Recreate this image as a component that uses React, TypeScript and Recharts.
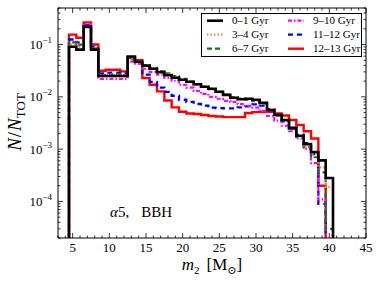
import { LineChart, Line, XAxis, YAxis, Legend } from 'recharts';

// lower edges of the 1 Msun bins; the last edge closes the final bin
const binEdges = [
  4.5, 5.5, 6.5, 7.5, 8.5, 9.5, 10.5, 11.5, 12.5, 13.5, 14.5, 15.5, 16.5, 17.5, 18.5, 19.5, 20.5, 21.5, 22.5,
  23.5, 24.5, 25.5, 26.5, 27.5, 28.5, 29.5, 30.5, 31.5, 32.5, 33.5, 34.5, 35.5, 36.5, 37.5, 38.5, 39.5, 40.5,
];

// N/N_TOT per bin (bins centred on 5..40 Msun)
const gyr0to1 = [
  0.091, 0.08, 0.22, 0.08, 0.025, 0.025, 0.025, 0.025, 0.059, 0.047, 0.0395, 0.0345, 0.0296, 0.0259, 0.0232, 0.0212,
  0.0194, 0.0174, 0.0156, 0.0143, 0.0125, 0.0109, 0.0096, 0.009, 0.0092, 0.0088, 0.0077, 0.0056, 0.0045, 0.0036,
  0.0025, 0.0018, 0.00125, 0.00088, 0.00061, 0.00028,
];
const gyr3to4 = [
  0.1, 0.09, 0.21, 0.085, 0.026, 0.026, 0.026, 0.026, 0.055, 0.048, 0.04, 0.035, 0.03, 0.027, 0.024, 0.021, 0.019,
  0.017, 0.0155, 0.0138, 0.0122, 0.0108, 0.0096, 0.009, 0.0089, 0.0085, 0.0075, 0.0058, 0.0045, 0.0036, 0.0026,
  0.0017, 0.0011, 0.0008, 0.00045, 0.00019,
];
const gyr6to7 = [
  0.11, 0.1, 0.215, 0.085, 0.026, 0.026, 0.027, 0.026, 0.052, 0.047, 0.04, 0.036, 0.031, 0.028, 0.025, 0.022,
  0.0195, 0.0175, 0.0155, 0.014, 0.0125, 0.011, 0.0098, 0.0093, 0.0088, 0.0083, 0.0074, 0.0056, 0.0044, 0.0035,
  0.0026, 0.0017, 0.0011, 0.0007, 0.00036, 0.00003,
];
const gyr9to10 = [
  0.11, 0.095, 0.25, 0.085, 0.022, 0.022, 0.022, 0.022, 0.047, 0.043, 0.0345, 0.03, 0.0265, 0.023, 0.0203, 0.017,
  0.015, 0.013, 0.0114, 0.01, 0.0092, 0.0084, 0.008, 0.0073, 0.0067, 0.0062, 0.0054, 0.0043, 0.0035, 0.0028,
  0.0022, 0.0016, 0.001, 0.00054, 0.00011, 0,
];
const gyr11to12 = [
  0.125, 0.11, 0.235, 0.09, 0.028, 0.029, 0.029, 0.028, 0.056, 0.043, 0.0265, 0.0194, 0.015, 0.0125, 0.0105,
  0.0088, 0.008, 0.0073, 0.0068, 0.0062, 0.0061, 0.006, 0.006, 0.0063, 0.0066, 0.0072, 0.0068, 0.0058, 0.0045,
  0.0034, 0.0026, 0.0019, 0.0013, 0.0008, 0.00009, 0,
];
const gyr12to13 = [
  0.155, 0.135, 0.265, 0.1, 0.0316, 0.033, 0.033, 0.0307, 0.055, 0.05, 0.023, 0.017, 0.0127, 0.0085, 0.0063,
  0.0052, 0.0048, 0.0047, 0.0045, 0.0043, 0.0042, 0.0041, 0.0041, 0.0041, 0.0049, 0.0051, 0.0051, 0.0052, 0.0048,
  0.0044, 0.0036, 0.0029, 0.0022, 0.0016, 0.0002, 0,
];

const xTicks = [3, 4, 5, 6, 7, 8, 9, 10, 11, 12, 13, 14, 15, 16, 17, 18, 19, 20, 21, 22, 23, 24, 25, 26, 27, 28, 29, 30, 31, 32, 33, 34, 35, 36, 37, 38, 39, 40, 41, 42, 43, 44, 45];
const xMajor = [5, 10, 15, 20, 25, 30, 35, 40, 45];
const yMajor = [1e-4, 1e-3, 1e-2, 1e-1];
const yMajorLabels = ['−4', '−3', '−2', '−1'];
const yTicks = [
  2e-5, 3e-5, 4e-5, 5e-5, 6e-5, 7e-5, 8e-5, 9e-5,
  1e-4, 2e-4, 3e-4, 4e-4, 5e-4, 6e-4, 7e-4, 8e-4, 9e-4,
  1e-3, 2e-3, 3e-3, 4e-3, 5e-3, 6e-3, 7e-3, 8e-3, 9e-3,
  1e-2, 2e-2, 3e-2, 4e-2, 5e-2, 6e-2, 7e-2, 8e-2, 9e-2,
  1e-1, 2e-1, 3e-1, 4e-1, 5e-1,
];

const SERIF = '"Liberation Serif", "DejaVu Serif", serif';
const FLOOR = 1e-9; // empty bins, drawn below the visible range

const series = [
  { key: 'g0', name: '0–1 Gyr', values: gyr0to1, color: '#000000', width: 2.6, dash: undefined },
  { key: 'g3', name: '3–4 Gyr', values: gyr3to4, color: '#ff7f50', width: 2.2, dash: '1.5 2' },
  { key: 'g6', name: '6–7 Gyr', values: gyr6to7, color: '#008000', width: 2.2, dash: '5 3' },
  { key: 'g9', name: '9–10 Gyr', values: gyr9to10, color: '#ff00ff', width: 2.2, dash: '4 2 1.5 2' },
  { key: 'g11', name: '11–12 Gyr', values: gyr11to12, color: '#0000ff', width: 2.3, dash: '5 4' },
  { key: 'g12', name: '12–13 Gyr', values: gyr12to13, color: '#ff0000', width: 2.4, dash: undefined },
];

// step data: a floor point opens the first bin, each edge carries its bin's value
const rows: Record<string, number>[] = [];
const first: Record<string, number> = { m: binEdges[0] };
series.forEach((s) => (first[s.key] = FLOOR));
rows.push(first);
binEdges.forEach((edge, i) => {
  const row: Record<string, number> = { m: edge };
  series.forEach((s) => {
    const v = s.values[i];
    row[s.key] = v && v > 0 ? v : FLOOR;
  });
  rows.push(row);
});

function BottomTick(props: any) {
  const { x, y, payload } = props;
  const major = xMajor.includes(payload.value);
  return (
    <g>
      <line x1={x} x2={x} y1={y} y2={y - (major ? 5 : 2.5)} stroke="#000" strokeWidth={0.8} />
      {major && (
        <text x={x} y={y + 14} textAnchor="middle" fontFamily={SERIF} fontSize={13} fill="#000">
          {payload.value}
        </text>
      )}
    </g>
  );
}

function TopTick(props: any) {
  const { x, y, payload } = props;
  const major = xMajor.includes(payload.value);
  return <line x1={x} x2={x} y1={y} y2={y + (major ? 5 : 2.5)} stroke="#000" strokeWidth={0.8} />;
}

function LeftTick(props: any) {
  const { x, y, payload } = props;
  const idx = yMajor.findIndex((v) => Math.abs(v - payload.value) / v < 1e-6);
  const major = idx >= 0;
  return (
    <g>
      <line x1={x} x2={x + (major ? 5 : 2.5)} y1={y} y2={y} stroke="#000" strokeWidth={0.8} />
      {major && (
        <text x={x - 6} y={y + 4.5} textAnchor="end" fontFamily={SERIF} fontSize={13} fill="#000">
          10
          <tspan fontSize={9} dy={-6}>
            {yMajorLabels[idx]}
          </tspan>
        </text>
      )}
    </g>
  );
}

function RightTick(props: any) {
  const { x, y, payload } = props;
  const major = yMajor.some((v) => Math.abs(v - payload.value) / v < 1e-6);
  return <line x1={x} x2={x - (major ? 5 : 2.5)} y1={y} y2={y} stroke="#000" strokeWidth={0.8} />;
}

function XTitle() {
  return (
    <text x={212} y={270} textAnchor="middle" fontFamily={SERIF} fontSize={17} fill="#000">
      <tspan fontStyle="italic">m</tspan>
      <tspan fontSize={11} dy={4}>2</tspan>
      <tspan dy={-4} dx={7}>[M</tspan>
      <tspan fontSize={11} dy={4}>⊙</tspan>
      <tspan dy={-4}>]</tspan>
    </text>
  );
}

function YTitle() {
  return (
    <text transform="rotate(-90)" x={-122} y={21} textAnchor="middle" fontFamily={SERIF} fontSize={19} fill="#000">
      <tspan fontStyle="italic">N</tspan>
      <tspan dx={1}>/</tspan>
      <tspan fontStyle="italic" dx={1}>N</tspan>
      <tspan fontSize={13} dy={4}>TOT</tspan>
    </text>
  );
}

function LegendBox() {
  return (
    <div style={{ width: 161, height: 44, boxSizing: 'border-box', border: '1px solid #000', background: '#fff' }}>
      <svg width={159} height={42} style={{ display: 'block' }}>
        {series.map((s, i) => {
          const col = Math.floor(i / 3);
          const row = i % 3;
          const x0 = col === 0 ? 5 : 86;
          const y = 6.7 + row * 14;
          return (
            <g key={s.key}>
              <line x1={x0} x2={x0 + 16} y1={y} y2={y} stroke={s.color} strokeWidth={s.width} strokeDasharray={s.dash} />
              <text x={x0 + 25} y={y + 3.5} fontFamily={SERIF} fontSize={11} fill="#000">
                {s.name}
              </text>
            </g>
          );
        })}
      </svg>
    </div>
  );
}

export default function App() {
  return (
    <div style={{ position: 'absolute', left: 0, top: 0, width: 382, height: 288, background: '#fff' }}>
      <LineChart width={382} height={288} data={rows} margin={{ top: 0, right: 0, bottom: 0, left: 0 }}>
        <XAxis
          dataKey="m"
          type="number"
          domain={[3, 45]}
          ticks={xTicks}
          interval={0}
          tickSize={0}
          tickMargin={0}
          tick={<BottomTick />}
          height={50}
          stroke="#000"
          allowDataOverflow
          label={<XTitle />}
        />
        <XAxis
          xAxisId="top"
          orientation="top"
          dataKey="m"
          type="number"
          domain={[3, 45]}
          ticks={xTicks}
          interval={0}
          tickSize={0}
          tickMargin={0}
          tick={<TopTick />}
          height={8}
          stroke="#000"
          allowDataOverflow
        />
        <YAxis
          scale="log"
          type="number"
          domain={[2e-5, 0.5]}
          ticks={yTicks}
          interval={0}
          tickSize={0}
          tickMargin={0}
          tick={<LeftTick />}
          width={58}
          stroke="#000"
          allowDataOverflow
          label={<YTitle />}
        />
        <YAxis
          yAxisId="right"
          orientation="right"
          scale="log"
          type="number"
          domain={[2e-5, 0.5]}
          ticks={yTicks}
          interval={0}
          tickSize={0}
          tickMargin={0}
          tick={<RightTick />}
          width={16}
          stroke="#000"
          allowDataOverflow
        />
        {[...series].reverse().map((s) => (
          <Line
            key={s.key}
            dataKey={s.key}
            type="stepAfter"
            stroke={s.color}
            strokeWidth={s.width}
            strokeDasharray={s.dash}
            dot={false}
            activeDot={false}
            isAnimationActive={false}
          />
        ))}
        <text x={110} y={217} fontFamily={SERIF} fontSize={15} fill="#000">
          <tspan fontStyle="italic">α</tspan>
          <tspan>5,</tspan>
          <tspan dx={12}>BBH</tspan>
        </text>
        <Legend
          layout="vertical"
          align="center"
          verticalAlign="middle"
          content={<LegendBox />}
          wrapperStyle={{ position: 'absolute', left: 201, top: 13, width: 161, height: 44 }}
        />
      </LineChart>
    </div>
  );
}
